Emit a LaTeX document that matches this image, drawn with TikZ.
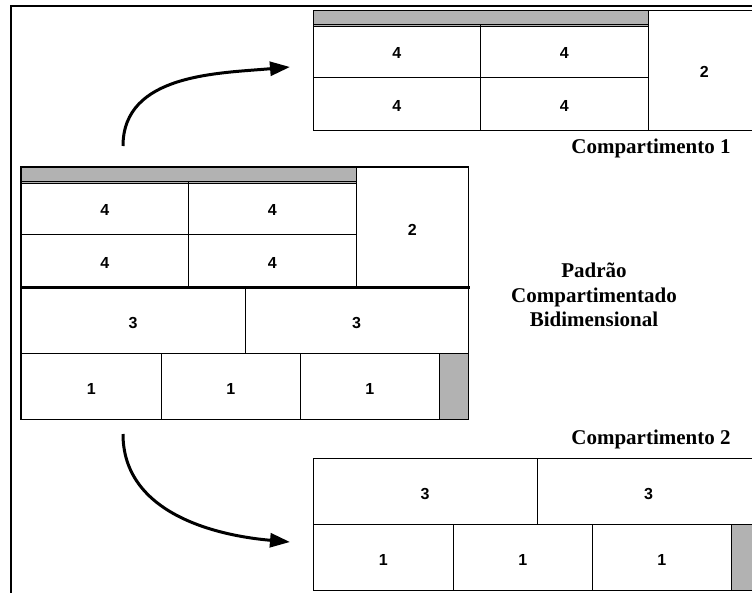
\documentclass[tikz,border=0pt]{standalone}
\usepackage{fontspec}
\setmainfont{Liberation Serif}
\newfontfamily\numfont{Liberation Sans}
\colorlet{SobraPadrao}{black!30}
\usetikzlibrary{calc, arrows.meta}
\tikzset{
    celula/.style={draw=black, line width=0.8pt, anchor=north west, inner sep=0pt,
        text height=16pt, font=\numfont\bfseries\fontsize{16}{16}\selectfont},
    sobra/.style={celula, fill=SobraPadrao},
    tam/.style 2 args={minimum width=#1pt, minimum height=#2pt},
    rotulo/.style={font=\bfseries\fontsize{21}{24.5}\selectfont, align=center},
    seta/.style={line width=3pt, -{Triangle[length=20pt, width=14pt]}}
}
\begin{document}
\begin{tikzpicture}[x=1pt, y=-1pt]

\useasboundingbox (0,0) rectangle (752,592);
\clip (0,0) rectangle (752,592);

% Moldura externa (cortada à direita e embaixo).
\draw[line width=1.5pt] (11,6) rectangle (800,650);

% Cantos superiores esquerdos de cada padrão.
\coordinate (M) at (21,167);
\coordinate (C1) at (313,9.5);
\coordinate (C2) at (313,458);

% Padrão compartimentado completo.
\node[sobra, tam={335}{14}] (m0) at (M) {};
\node[celula, tam={167}{53}] (m41) at ($(M)+(0,14)$) {4};
\node[celula, tam={168}{53}] (m42) at ($(M)+(167,14)$) {4};
\node[celula, tam={167}{53}] (m43) at ($(M)+(0,67)$) {4};
\node[celula, tam={168}{53}] (m44) at ($(M)+(167,67)$) {4};
\node[celula, tam={112}{120}] (m2) at ($(M)+(335,0)$) {2};
\node[celula, tam={223.5}{66}] (m31) at ($(M)+(0,120)$) {3};
\node[celula, tam={223.5}{66}] (m32) at ($(M)+(223.5,120)$) {3};
\node[celula, tam={140}{66}] (m11) at ($(M)+(0,186)$) {1};
\node[celula, tam={139}{66}] (m12) at ($(M)+(140,186)$) {1};
\node[celula, tam={139}{66}] (m13) at ($(M)+(279,186)$) {1};
\node[sobra, tam={29}{66}] (ms) at ($(M)+(418,186)$) {};

% Contorno e linha de corte entre os compartimentos.
\draw[line width=1.2pt] (m0.north west) rectangle (ms.south east);
\draw[line width=3pt] ($(m43.south west)+(-1,0)$) -- ($(m2.south east)+(1,0)$);

% Compartimento 1.
\node[sobra, tam={335}{14}] (a0) at (C1) {};
\node[celula, tam={167}{53}] (a41) at ($(C1)+(0,14)$) {4};
\node[celula, tam={168}{53}] (a42) at ($(C1)+(167,14)$) {4};
\node[celula, tam={167}{53}] (a43) at ($(C1)+(0,67)$) {4};
\node[celula, tam={168}{53}] (a44) at ($(C1)+(167,67)$) {4};
\node[celula, tam={112}{120}] (a2) at ($(C1)+(335,0)$) {2};

% Compartimento 2.
\node[celula, tam={223.5}{66}] (b31) at (C2) {3};
\node[celula, tam={223.5}{66}] (b32) at ($(C2)+(223.5,0)$) {3};
\node[celula, tam={140}{66}] (b11) at ($(C2)+(0,66)$) {1};
\node[celula, tam={139}{66}] (b12) at ($(C2)+(140,66)$) {1};
\node[celula, tam={139}{66}] (b13) at ($(C2)+(279,66)$) {1};
\node[sobra, tam={29}{66}] (bs) at ($(C2)+(418,66)$) {};

% Rótulos.
\node[rotulo] (tc1) at (651,148) {Compartimento 1};
\node[rotulo] (tpad) at (594,295) {Padrão\\Compartimentado\\Bidimensional};
\node[rotulo] (tc2) at (651,439) {Compartimento 2};

% Setas do padrão para os compartimentos.
\coordinate (s1) at (123,146);
\coordinate (e1) at (290,67);
\coordinate (s2) at (123,434);
\coordinate (e2) at (290,542);
\draw[seta] (s1) to[out=90, in=185] (e1);
\draw[seta] (s2) to[out=-90, in=175] (e2);

\end{tikzpicture}
\end{document}
